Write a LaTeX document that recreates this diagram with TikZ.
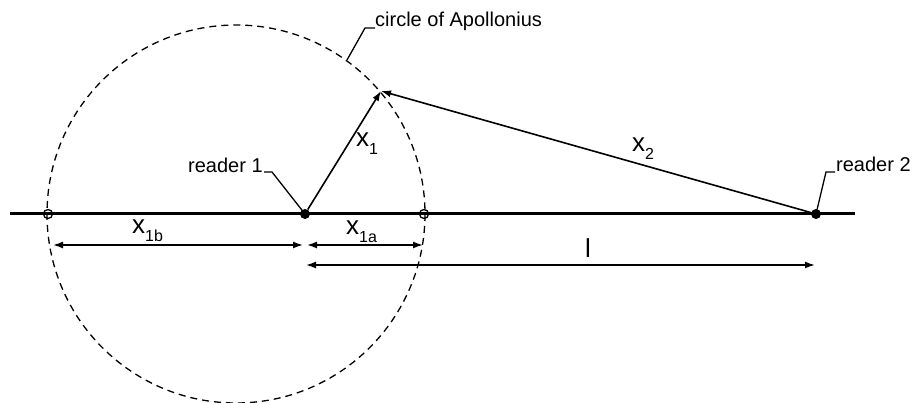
\documentclass[tikz,border=0pt]{standalone}
\usepackage{fontspec}
\setmainfont{Liberation Sans}
\usetikzlibrary{arrows.meta}
\begin{document}
\begin{tikzpicture}[x=1pt,y=-1pt,
  lbl/.style={inner sep=0pt, font=\fontsize{20}{20}\selectfont},
  var/.style={inner sep=0pt, font=\fontsize{26}{26}\selectfont},
  dot/.style={circle, fill, inner sep=0pt, minimum size=10pt},
  ring/.style={circle, draw, line width=1.3pt, inner sep=0pt, minimum size=9pt},
  arr/.style={line width=1.6pt, -{Latex[length=10pt,width=7pt]}},
  dim/.style={line width=1.5pt, {Latex[length=10pt,width=7pt]}-{Latex[length=10pt,width=7pt]}},
  leader/.style={line width=1.3pt}]
\useasboundingbox (0,0) rectangle (913,403);
\fill[white] (0,0) rectangle (913,403);
% circle of Apollonius
\coordinate (C) at (236,214);
\draw[line width=1.3pt, dash pattern=on 7pt off 5pt] (C) circle[radius=189];
% main axis
\coordinate (L0) at (10,214);
\coordinate (L1) at (855,214);
\draw[line width=3pt] (L0) -- (L1);
% points
\node[dot] (r1) at (305,214) {};
\node[dot] (r2) at (816,214) {};
\node[ring] (pa) at (424,214) {};
\node[ring] (pb) at (48,214) {};
\coordinate (P) at (381,91);
\draw[arr] (r1) -- (P);
\draw[arr] (r2) -- (P);
% dimension lines
\coordinate (d1a) at (53,245);
\coordinate (d1b) at (303,245);
\coordinate (d2a) at (307,245);
\coordinate (d2b) at (423,245);
\coordinate (d3a) at (306,265);
\coordinate (d3b) at (815,265);
\draw[dim] (d1a) -- (d1b);
\draw[dim] (d2a) -- (d2b);
\draw[dim] (d3a) -- (d3b);
% text labels
\node[lbl, anchor=base west] (t1) at (188,173) {reader 1};
\node[lbl, anchor=base west] (t2) at (836,172) {reader 2};
\node[lbl, anchor=base west] (t3) at (375,27) {circle of Apollonius};
% leaders
\coordinate (k1) at (272,172);
\coordinate (k1e) at (264,172);
\draw[leader] (r1.center) -- (k1) -- (k1e);
\coordinate (k2) at (826,172);
\coordinate (k2e) at (835,172);
\draw[leader] (r2.center) -- (k2) -- (k2e);
\coordinate (k3s) at (347,60);
\coordinate (k3) at (365,28);
\coordinate (k3e) at (375,28);
\draw[leader] (k3s) -- (k3) -- (k3e);
% variable labels
\node[var, anchor=base west] (xb) at (132,234) {x\raisebox{-8pt}{\fontsize{16}{16}\selectfont 1b}};
\node[var, anchor=base west] (xa) at (346,235) {x\raisebox{-8pt}{\fontsize{16}{16}\selectfont 1a}};
\node[var, anchor=base west] (x1) at (356,147) {x\raisebox{-8pt}{\fontsize{16}{16}\selectfont 1}};
\node[var, anchor=base west] (x2) at (632,152) {x\raisebox{-8pt}{\fontsize{16}{16}\selectfont 2}};
\node[var, anchor=base west] (ll) at (585,258) {l};
\end{tikzpicture}
\end{document}
